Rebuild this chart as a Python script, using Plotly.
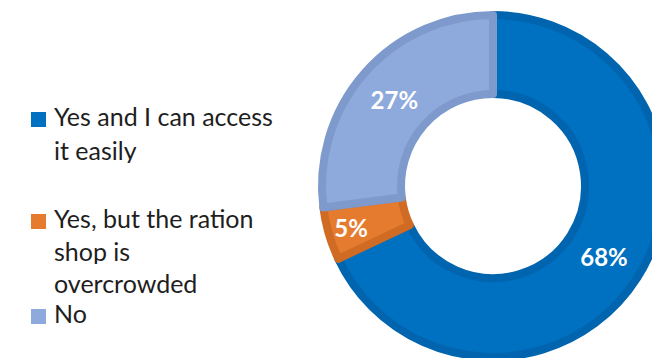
import plotly.graph_objects as go

# ---- data ----
labels = ["Yes and I can access it easily",
          "Yes, but the ration shop is overcrowded",
          "No"]
legend_lines = [["Yes and I can access", "it easily"],
                ["Yes, but the ration", "shop is", "overcrowded"],
                ["No"]]
values = [68, 5, 27]

fill_colors = ["#0070C0", "#E57B2E", "#8EA9DB"]
edge_colors = ["#0064AE", "#D06B24", "#7E99CB"]

# ---- canvas (larger than the 652x358 window, so the donut is cropped like the reference) ----
W, H = 720, 400

def px(x):
    return x / W

def py(y):
    return 1 - y / H

cx, cy, R = 493, 186, 171      # donut centre and path radius (pixels)
hole = 92 / R

fig = go.Figure()
fig.add_trace(go.Pie(
    labels=labels,
    values=values,
    sort=False,
    direction="clockwise",
    rotation=0,
    hole=hole,
    domain=dict(x=[px(cx - R), px(cx + R)], y=[py(cy + R), py(cy - R)]),
    marker=dict(colors=fill_colors, line=dict(color=edge_colors, width=8)),
    texttemplate="%{value}%",
    textposition="inside",
    insidetextorientation="horizontal",
    textfont=dict(family="Lato", size=24, color="white", weight="bold"),
    hoverinfo="label+percent",
    showlegend=False,
))

# ---- legend drawn as text + squares ----
annotations = []
shapes = []
baselines = [[127, 161], [229, 262, 294], [324]]
fs = 25
for lines, bls, col in zip(legend_lines, baselines, fill_colors):
    for ln, b in zip(lines, bls):
        annotations.append(dict(
            text=ln, x=px(52), y=py(b - 0.33 * fs - 3), xref="paper", yref="paper",
            xanchor="left", yanchor="middle", showarrow=False, height=fs + 2,
            font=dict(family="Lato", size=fs, color="#1E1E1E"),
        ))
    b0 = bls[0]
    shapes.append(dict(
        type="rect", xref="paper", yref="paper",
        x0=px(31), x1=px(46), y0=py(b0), y1=py(b0 - 15),
        fillcolor=col, line=dict(width=0),
    ))

fig.update_layout(
    width=W, height=H,
    margin=dict(l=0, r=0, t=0, b=0),
    paper_bgcolor="white",
    plot_bgcolor="white",
    annotations=annotations,
    shapes=shapes,
)

fig.write_html(
    "out.html",
    post_script="document.body.style.margin='0';document.body.style.overflow='hidden';"
                "document.documentElement.style.overflow='hidden';",
)
